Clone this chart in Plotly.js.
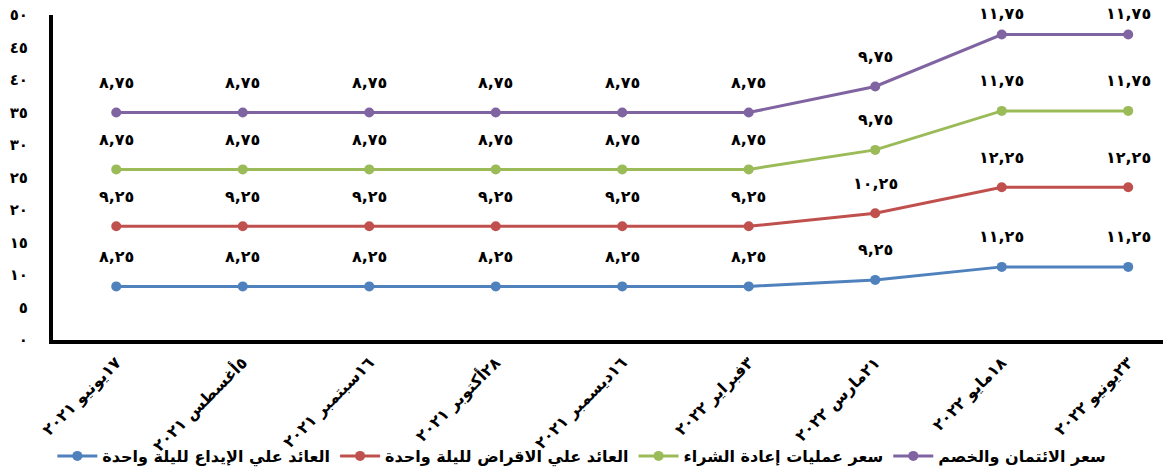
<!DOCTYPE html>
<html>
<head>
<meta charset="utf-8">
<script src="https://cdn.plot.ly/plotly-3.0.1.min.js"></script>
<style>html,body{margin:0;padding:0;background:#fff;overflow:hidden}</style>
</head>
<body>
<div id="chart" style="width:1163px;height:473px"></div>
<script>
const categories = ["١٧يونيو ٢٠٢١","٥أغسطس ٢٠٢١","١٦سبتمبر ٢٠٢١","٢٨أكتوبر ٢٠٢١","١٦ديسمبر ٢٠٢١","٣فبراير ٢٠٢٢","٢١مارس ٢٠٢٢","١٨مايو ٢٠٢٢","٢٣يونيو ٢٠٢٢"];
const depositRate = [8.25,8.25,8.25,8.25,8.25,8.25,9.25,11.25,11.25];
const lendingRate = [9.25,9.25,9.25,9.25,9.25,9.25,10.25,12.25,12.25];
const repoRate    = [8.75,8.75,8.75,8.75,8.75,8.75,9.75,11.75,11.75];
const discountRate= [8.75,8.75,8.75,8.75,8.75,8.75,9.75,11.75,11.75];
const seriesNames = ["العائد علي الإيداع لليلة واحدة","العائد علي الاقراض لليلة واحدة","سعر عمليات إعادة الشراء","سعر الائتمان والخصم"];
const yTickVals = [0,5,10,15,20,25,30,35,40,45,50];
const yTickText = ["٠","٥","١٠","١٥","٢٠","٢٥","٣٠","٣٥","٤٠","٤٥","٥٠"];

const colors = ["#4F81BD","#C0504D","#9BBB59","#8064A2"];
const allSeries = [depositRate, lendingRate, repoRate, discountRate];
const FONT = "DejaVu Sans, sans-serif";

const toArabic = s => s.replace(/[0-9]/g, d => "٠١٢٣٤٥٦٧٨٩"[+d]);
const fmt = v => toArabic(v.toFixed(2).replace(".", ","));

const traces = allSeries.map((vals, i) => ({
  type: "scatter", mode: "lines+markers",
  x: categories, y: vals, name: seriesNames[i],
  stackgroup: "one", fill: "none",
  line: {color: colors[i], width: 3},
  marker: {color: colors[i], size: 10},
  hoverinfo: "skip"
}));

const annotations = [];
const cum = categories.map(() => 0);
allSeries.forEach((vals) => {
  vals.forEach((v, j) => {
    cum[j] += v;
    annotations.push({
      x: categories[j], y: cum[j], xref: "x", yref: "y",
      text: fmt(v), showarrow: false, yshift: cum[j] > 45 ? 21 : 30,
      font: {family: FONT, size: 16, color: "#000", weight: "bold"}
    });
  });
});

const layout = {
  width: 1163, height: 473,
  margin: {l: 53, r: 0, t: 15, b: 133},
  paper_bgcolor: "#fff", plot_bgcolor: "#fff",
  showlegend: true,
  legend: {
    orientation: "h", xref: "container", yref: "container",
    x: 0.045, y: 0.0, xanchor: "left", yanchor: "bottom",
    bgcolor: "rgba(0,0,0,0)",
    font: {family: FONT, size: 16, color: "#000", weight: "bold"},
    traceorder: "normal", itemwidth: 40
  },
  xaxis: {
    type: "category", range: [-0.5, 8.275],
    showgrid: false, zeroline: false,
    showline: true, linecolor: "#000", linewidth: 4,
    ticks: "", tickangle: -45, ticklabelstandoff: 3,
    tickfont: {family: FONT, size: 16, color: "#000", weight: "bold"},
    fixedrange: true
  },
  yaxis: {
    range: [0, 50], tickvals: yTickVals, ticktext: yTickText,
    showgrid: false, zeroline: false,
    showline: true, linecolor: "#000", linewidth: 4,
    ticks: "", ticklabelstandoff: 18,
    tickfont: {family: FONT, size: 15, color: "#000", weight: "bold"},
    fixedrange: true
  },
  annotations: annotations
};

Plotly.newPlot("chart", traces, layout, {displayModeBar: false, staticPlot: true});
</script>
</body>
</html>
